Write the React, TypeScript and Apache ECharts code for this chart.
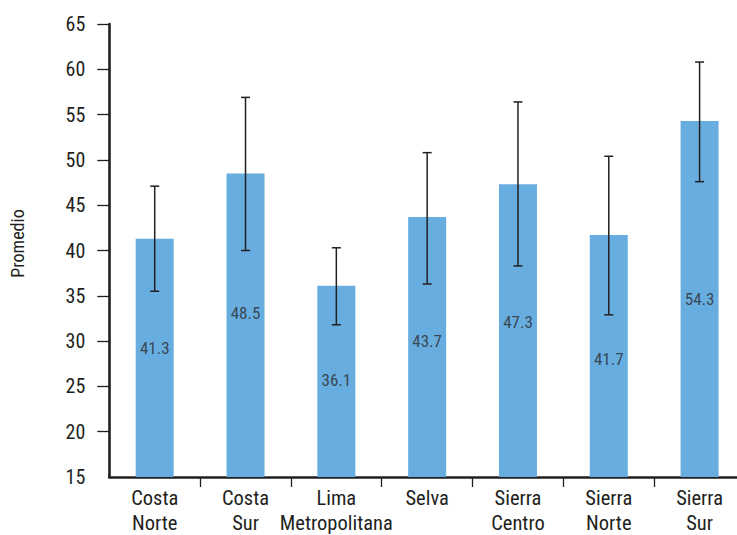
import React, { useEffect, useRef } from "react";
import * as echarts from "echarts";

const categories = [
  "Costa\nNorte",
  "Costa\nSur",
  "Lima\nMetropolitana",
  "Selva",
  "Sierra\nCentro",
  "Sierra\nNorte",
  "Sierra\nSur",
];
const means = [41.3, 48.5, 36.1, 43.7, 47.3, 41.7, 54.3];
const errLow = [35.5, 40.0, 31.8, 36.3, 38.3, 32.9, 47.6];
const errHigh = [47.1, 56.9, 40.3, 50.8, 56.4, 50.4, 60.8];
const labelY = [29.2, 33.1, 25.7, 30.0, 32.1, 28.0, 34.7];
const yLabelValues = [15, 20, 25, 30, 35, 40, 45, 50, 55, 60, 65];
const yTickValues = [20, 25, 30, 35, 40, 45, 50, 55, 60, 65];

const FONT = "'Roboto Condensed', 'Liberation Sans', Arial, sans-serif";
const INK = "#231f20";

export default function App() {
  const ref = useRef<HTMLDivElement>(null);

  useEffect(() => {
    if (!ref.current) return;
    const chart = echarts.init(ref.current, undefined, { renderer: "svg" });
    chart.setOption({
      animation: false,
      backgroundColor: "#ffffff",
      grid: { left: 109.3, right: 1, top: 24, bottom: 58, containLabel: false },
      xAxis: {
        type: "category",
        data: categories,
        boundaryGap: true,
        axisLine: { show: true, lineStyle: { color: INK, width: 2.6 } },
        axisTick: {
          show: true,
          length: 10,
          interval: (index: number) => index !== 0,
          lineStyle: { color: INK, width: 1.3 },
        },
        axisLabel: {
          color: INK,
          fontFamily: FONT,
          fontSize: 20.5,
          lineHeight: 25,
          margin: 8,
          interval: 0,
        },
      },
      yAxis: {
        type: "value",
        min: 15,
        max: 65,
        interval: 5,
        name: "Promedio",
        nameLocation: "middle",
        nameGap: 83,
        nameTextStyle: { color: INK, fontFamily: FONT, fontSize: 18, padding: [0, 0, 0, 14] },
        axisLine: { show: true, lineStyle: { color: INK, width: 2.6 } },
        axisTick: {
          show: true,
          length: 12,
          customValues: yTickValues,
          lineStyle: { color: INK, width: 1.3 },
        },
        axisLabel: {
          color: INK,
          fontFamily: FONT,
          fontSize: 20,
          margin: 24,
          customValues: yLabelValues,
        },
        splitLine: { show: false },
      },
      series: [
        {
          type: "bar",
          data: means,
          barWidth: 38,
          itemStyle: { color: "#68ade0" },
          z: 1,
        },
        {
          type: "custom",
          data: categories.map((_, i) => [i, errLow[i], errHigh[i]]),
          encode: { x: 0, y: [1, 2] },
          z: 3,
          renderItem: (params: any, api: any) => {
            const lo = api.coord([api.value(0), api.value(1)]);
            const hi = api.coord([api.value(0), api.value(2)]);
            const cap = 4.5;
            const style = { stroke: INK, lineWidth: 1.5 };
            return {
              type: "group",
              children: [
                { type: "line", shape: { x1: lo[0], y1: lo[1], x2: hi[0], y2: hi[1] }, style },
                { type: "line", shape: { x1: hi[0] - cap, y1: hi[1], x2: hi[0] + cap, y2: hi[1] }, style },
                { type: "line", shape: { x1: lo[0] - cap, y1: lo[1], x2: lo[0] + cap, y2: lo[1] }, style },
              ],
            };
          },
        },
        {
          type: "scatter",
          data: categories.map((_, i) => [i, labelY[i], means[i]]),
          symbolSize: 0,
          z: 4,
          label: {
            show: true,
            position: "inside",
            formatter: (p: any) => Number(p.value[2]).toFixed(1),
            color: "#2b2b2b",
            fontFamily: FONT,
            fontSize: 17,
          },
        },
      ],
    });
    return () => chart.dispose();
  }, []);

  return (
    <div style={{ width: 737, height: 535, position: "absolute", left: 0, top: 0, overflow: "hidden" }}>
      <div ref={ref} style={{ width: 746, height: 535 }} />
    </div>
  );
}
